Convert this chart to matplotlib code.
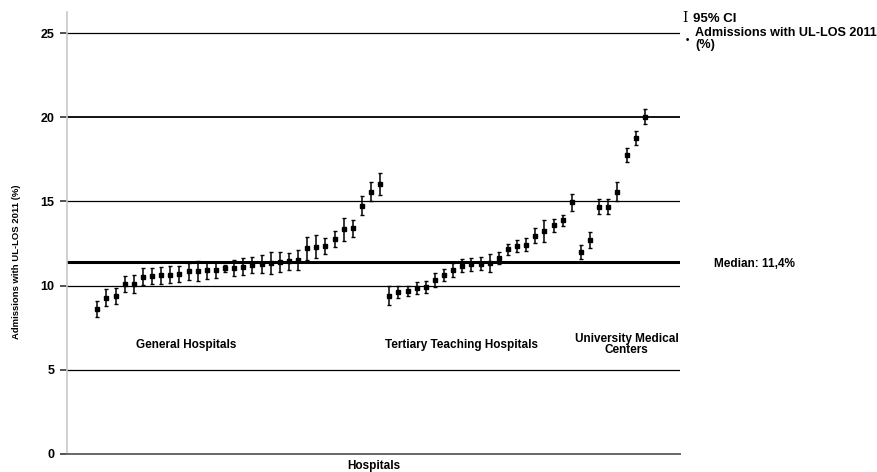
import numpy as np
import matplotlib
matplotlib.use('Agg')
import matplotlib.pyplot as plt

plt.rcParams['font.family'] = ['Liberation Sans', 'DejaVu Sans']
plt.rcParams['font.weight'] = 'bold'

# admissions with UL-LOS 2011 (%) per hospital, sorted within each group
general = [8.59, 9.28, 9.40, 10.08, 10.10, 10.53, 10.57, 10.61, 10.65, 10.69,
           10.85, 10.87, 10.91, 10.93, 11.03, 11.06, 11.12, 11.20, 11.28, 11.32,
           11.40, 11.44, 11.50, 12.21, 12.31, 12.35, 12.79, 13.34, 13.40, 14.75,
           15.58, 16.05]
general_ci = [0.48, 0.51, 0.48, 0.48, 0.56, 0.51, 0.45, 0.51, 0.51, 0.45,
              0.51, 0.60, 0.50, 0.48, 0.22, 0.48, 0.51, 0.48, 0.54, 0.65,
              0.62, 0.51, 0.60, 0.67, 0.67, 0.45, 0.47, 0.68, 0.51, 0.57,
              0.55, 0.66]
tertiary = [9.40, 9.62, 9.68, 9.88, 9.92, 10.33, 10.63, 10.93, 11.18, 11.26,
            11.30, 11.34, 11.64, 12.16, 12.35, 12.43, 12.96, 13.24, 13.58, 13.88,
            14.95]
tertiary_ci = [0.55, 0.37, 0.28, 0.35, 0.37, 0.40, 0.34, 0.40, 0.40, 0.37,
               0.40, 0.54, 0.35, 0.32, 0.37, 0.38, 0.45, 0.64, 0.40, 0.33,
               0.52]
umc = [12.01, 12.71, 14.69, 14.69, 15.58, 17.76, 18.75, 20.03]
umc_ci = [0.40, 0.47, 0.45, 0.43, 0.56, 0.42, 0.42, 0.45]

median = 11.4
yticks = [0, 5, 10, 15, 20, 25]

rates = np.array(general + tertiary + umc)
ci = np.array(general_ci + tertiary_ci + umc_ci)
x = np.arange(1, len(rates) + 1)

fig = plt.figure(figsize=(8.78, 4.72), dpi=100)
ax = fig.add_axes([67 / 878, 18 / 472, 613 / 878, 442 / 472])

for t in yticks[1:]:
    ax.axhline(t, color='black', lw=1.3 if t == 20 else 0.9, zorder=1)
ax.axhline(median, color='black', lw=2.2, zorder=1)

ax.errorbar(x, rates, yerr=ci, fmt='s', ms=2.5, color='black', ecolor='black',
            elinewidth=1.1, capsize=1.7, capthick=1.0, zorder=3)

ax.set_xlim(-2.32, 64.86)
ax.set_ylim(0, 26.25)
ax.set_yticks(yticks)
ax.set_xticks([])
ax.tick_params(axis='y', length=5, width=1.2, color='#333333', labelsize=9, pad=4)
for lab in ax.get_yticklabels():
    lab.set_fontweight('bold')
ax.spines['top'].set_visible(False)
ax.spines['right'].set_visible(False)
ax.spines['left'].set_color('#c8c8c8')
ax.spines['left'].set_linewidth(1.2)
ax.spines['bottom'].set_color('#666666')
ax.spines['bottom'].set_linewidth(1.4)

ax.set_xlabel('Hospitals', fontsize=8.5, fontweight='bold', labelpad=4)
fig.text(17 / 878, 1 - 262 / 472, 'Admissions with UL-LOS 2011 (%)', rotation=90,
         ha='center', va='center', fontsize=6.8, fontweight='bold')

# group labels
ax.text(10.7, 6.47, 'General Hospitals', ha='center', va='center', fontsize=8.5,
        fontweight='bold')
ax.text(40.9, 6.47, 'Tertiary Teaching Hospitals', ha='center', va='center',
        fontsize=8.5, fontweight='bold')
ax.text(59.0, 6.5, 'University Medical\nCenters', ha='center', va='center',
        fontsize=8.5, fontweight='bold', linespacing=0.85)

fig.text(714 / 878, 1 - 264 / 472, 'Median: 11,4%', ha='left', va='center',
         fontsize=8.5, fontweight='bold')

# legend
fig.text(685 / 878, 1 - 18 / 472, 'I', ha='center', va='center', fontsize=10,
         family='DejaVu Serif', fontweight='normal')
fig.text(693 / 878, 1 - 19.5 / 472, '95% CI', ha='left', va='center', fontsize=9.5,
         fontweight='bold')
fig.text(687 / 878, 1 - 40 / 472, '\u2022', ha='center', va='center', fontsize=7)
fig.text(695 / 878, 1 - 39 / 472, 'Admissions with UL-LOS 2011\n(%)', ha='left',
         va='center', fontsize=9.1, fontweight='bold', linespacing=1.1)

fig.savefig('out.png', dpi=100)
